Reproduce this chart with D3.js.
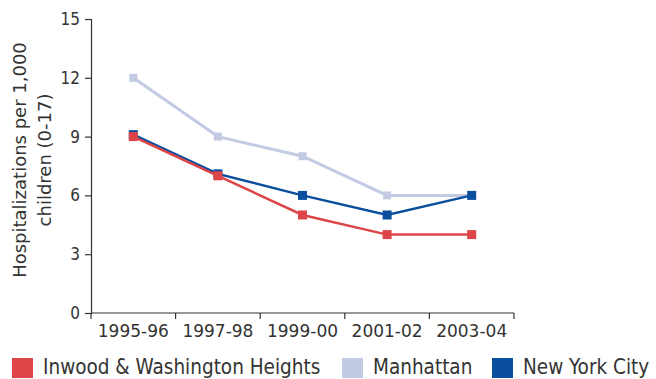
<!DOCTYPE html>
<html>
<head>
<meta charset="utf-8">
<script src="https://cdn.jsdelivr.net/npm/d3@7"></script>
<style>
  html, body { margin: 0; padding: 0; background: #fff; }
  svg { display: block; font-family: "DejaVu Sans Condensed", "DejaVu Sans", sans-serif; }
</style>
</head>
<body>
<svg id="chart" width="656" height="379"></svg>
<script>
// Child asthma hospitalizations per 1,000 children (0-17)
const periods = ["1995-96", "1997-98", "1999-00", "2001-02", "2003-04"];
const inwood = [9.0, 7.0, 5.0, 4.0, 4.0];
const manhattan = [12.0, 9.0, 8.0, 6.0, 6.0];
const nyc = [9.1, 7.1, 6.0, 5.0, 6.0];
const yTicks = [0, 3, 6, 9, 12, 15];
const seriesNames = ["Inwood & Washington Heights", "Manhattan", "New York City"];

const colors = {
  "Inwood & Washington Heights": "#dd4548",
  "Manhattan": "#c3cae4",
  "New York City": "#0a4f9d"
};

const svg = d3.select("#chart");
const margin = { left: 91, right: 142, top: 19, bottom: 66 };
const W = 656, H = 379;
const textColor = "#333";
const axisColor = "#333";
const regular = "DejaVu Sans, sans-serif";
const condensed = "DejaVu Sans Condensed, DejaVu Sans, sans-serif";

const x = d3.scaleBand().domain(periods).range([margin.left, W - margin.right]);
const y = d3.scaleLinear().domain([0, 15]).range([H - margin.bottom, margin.top]);

// y axis
const yAxis = svg.append("g")
  .attr("transform", `translate(${margin.left},0)`)
  .call(d3.axisLeft(y).tickValues(yTicks).tickSize(6).tickPadding(5).tickFormat(d3.format("d")));
yAxis.select(".domain").attr("stroke", axisColor).attr("stroke-width", 1.2);
yAxis.selectAll(".tick line").attr("stroke", axisColor).attr("stroke-width", 1.2);
yAxis.selectAll("text")
  .attr("font-size", 17)
  .attr("fill", textColor)
  .attr("font-family", condensed);

// x axis: ticks on band boundaries, labels centred in bands
const xg = svg.append("g").attr("transform", `translate(0,${H - margin.bottom})`);
xg.append("line")
  .attr("x1", margin.left).attr("x2", W - margin.right)
  .attr("stroke", axisColor).attr("stroke-width", 1.2);
const bounds = periods.map(p => x(p)).concat([x.range()[1]]);
xg.selectAll("line.tk").data(bounds).join("line")
  .attr("class", "tk")
  .attr("x1", d => d).attr("x2", d => d)
  .attr("y1", 0).attr("y2", 6)
  .attr("stroke", axisColor).attr("stroke-width", 1.2);
xg.selectAll("text").data(periods).join("text")
  .attr("x", d => x(d) + x.bandwidth() / 2)
  .attr("y", 24)
  .attr("text-anchor", "middle")
  .attr("font-size", 17)
  .attr("font-family", regular)
  .attr("fill", textColor)
  .text(d => d);

// y axis title
const yTitle = svg.append("text")
  .attr("transform", "translate(0,160) rotate(-90)")
  .attr("text-anchor", "middle")
  .attr("font-size", 18)
  .attr("font-family", regular)
  .attr("fill", textColor);
yTitle.append("tspan").attr("x", 0).attr("y", 26).text("Hospitalizations per 1,000");
yTitle.append("tspan").attr("x", 0).attr("y", 51).text("children (0-17)");

// lines and square markers
const cx = d => x(d) + x.bandwidth() / 2;
const line = d3.line().x(d => cx(d.p)).y(d => y(d.v));

const series = [
  { name: "Manhattan", values: manhattan, w: 3, m: 8 },
  { name: "New York City", values: nyc, w: 2.5, m: 9 },
  { name: "Inwood & Washington Heights", values: inwood, w: 2.5, m: 9 }
];

series.forEach(s => {
  const pts = periods.map((p, i) => ({ p, v: s.values[i] }));
  svg.append("path")
    .datum(pts)
    .attr("fill", "none")
    .attr("stroke", colors[s.name])
    .attr("stroke-width", s.w)
    .attr("d", line);
  svg.selectAll(null).data(pts).join("rect")
    .attr("x", d => cx(d.p) - s.m / 2)
    .attr("y", d => y(d.v) - s.m / 2)
    .attr("width", s.m).attr("height", s.m)
    .attr("fill", colors[s.name]);
});

// legend
const legendX = [12, 342, 492];
const lg = svg.append("g");
seriesNames.forEach((n, i) => {
  lg.append("rect")
    .attr("x", legendX[i]).attr("y", 358)
    .attr("width", 21).attr("height", 20)
    .attr("fill", colors[n]);
  lg.append("text")
    .attr("x", legendX[i] + 31).attr("y", 374)
    .attr("font-size", 20.5)
    .attr("font-family", condensed)
    .attr("fill", textColor)
    .text(n);
});
</script>
</body>
</html>
